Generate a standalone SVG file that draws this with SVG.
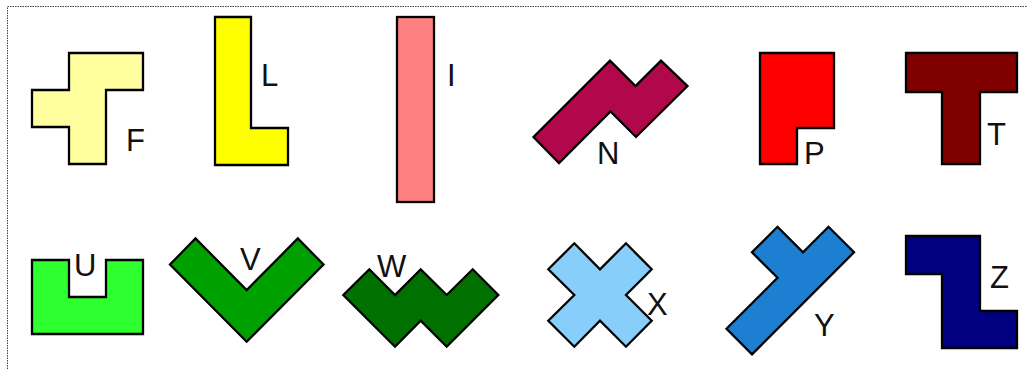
<svg xmlns="http://www.w3.org/2000/svg" width="1027" height="369" viewBox="0 0 1027 369">
<style>
.p{stroke:#000;stroke-width:2.3;stroke-linejoin:miter}
.t{font-family:"Liberation Sans",Arial,sans-serif;font-size:31px;fill:#111}
.b{stroke:#444;stroke-width:1;stroke-dasharray:1.5 1;fill:none}
</style>
<rect width="1027" height="369" fill="#fff"/>
<path class="b" d="M7.5,369 V6.5 H1027"/>
<g id="F"><polygon class="p" fill="#FFFFA0" points="69,53 143,53 143,90 106,90 106,164 69,164 69,127 32,127 32,90 69,90"/><text class="t" x="126" y="151">F</text></g>
<g id="L"><polygon class="p" fill="#FFFF00" points="215,17 251,17 251,128 288,128 288,165 215,165"/><text class="t" x="261" y="86">L</text></g>
<g id="I"><rect class="p" fill="#FF8080" x="397" y="17" width="37" height="185"/><text class="t" x="447" y="86">I</text></g>
<g id="N"><polygon class="p" fill="#B0084A" points="533.5,137 610,60.6 635.5,86.1 661,60.6 687.5,86.1 636,137 610.5,111.5 559,163 "/><text class="t" x="597" y="164">N</text></g>
<g id="P"><polygon class="p" fill="#FF0000" points="760,53 834,53 834,128 797,128 797,164 760,164"/><text class="t" x="804" y="164">P</text></g>
<g id="T"><polygon class="p" fill="#800000" points="906,53 1017,53 1017,92 980,92 980,164 942,164 942,92 906,92"/><text class="t" x="987" y="145">T</text></g>
<g id="U"><polygon class="p" fill="#2EFF2E" points="32,260 69,260 69,297 106,297 106,260 143,260 143,334 32,334"/><text class="t" x="74" y="276">U</text></g>
<g id="V"><polygon class="p" fill="#00A000" points="246.7,341.7 170,264.5 195.5,238.5 246.7,290 297.8,238.5 323.5,264.5"/><text class="t" x="240" y="270">V</text></g>
<g id="W"><polygon class="p" fill="#007000" points="343.3,295 369.3,269.3 395,295 420.7,269.3 446.7,295 472.7,269.3 498.3,295 446.7,346.7 420.7,320.7 395,346.7"/><text class="t" x="377" y="277">W</text></g>
<g id="X"><polygon class="p" fill="#87CEFA" points="548.3,269.3 574.3,243.3 600,269.3 626,243.3 651.7,269.3 626,295 651.7,320.7 626,346.7 600,320.7 574.3,346.7 548.3,320.7 574.3,295"/><text class="t" x="647" y="315">X</text></g>
<g id="Y"><polygon class="p" fill="#1C7FD2" points="854,252.3 752,354.3 726.5,328.8 777.5,277.8 752,252.3 777.5,226.8 803,252.3 828.5,226.8"/><text class="t" x="814" y="336">Y</text></g>
<g id="Z"><polygon class="p" fill="#000080" points="906,236 980,236 980,311 1017,311 1017,348 942,348 942,274 906,274"/><text class="t" x="990" y="288">Z</text></g>
</svg>
